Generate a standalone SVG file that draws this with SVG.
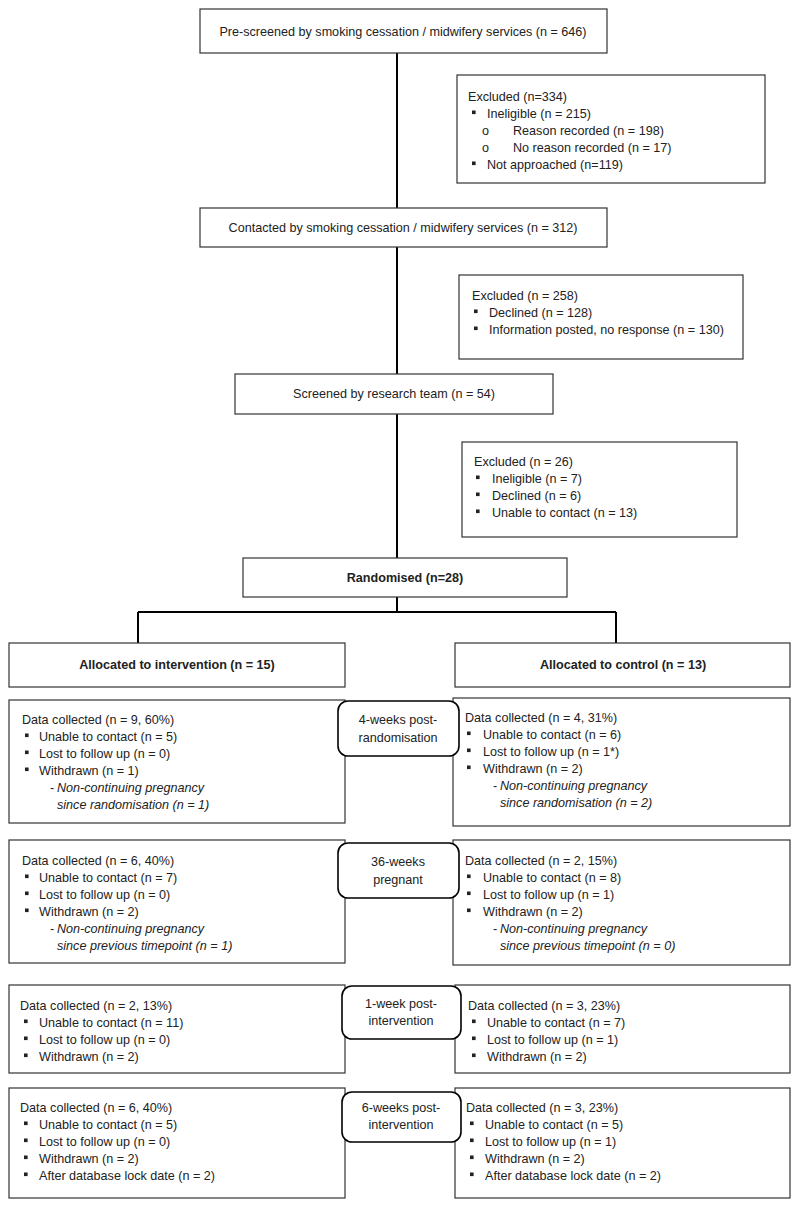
<svg xmlns="http://www.w3.org/2000/svg" width="800" height="1212" viewBox="0 0 800 1212">
<style>
.box{fill:#fff;stroke:#333;stroke-width:1.2}
.tp{fill:#fff;stroke:#000;stroke-width:1.6}
.con{stroke:#000;stroke-width:2;fill:none}
text{font-family:"Liberation Sans",Arial,sans-serif;font-size:12.6px;fill:#222}
.c{text-anchor:middle}
.b{font-weight:bold}
.i{font-style:italic}
.bul{fill:#222}
</style>
<defs>
<rect id="sq" x="0" y="-7.5" width="3.6" height="3.6" class="bul"/>
</defs>
<rect width="800" height="1212" fill="#fff"/>
<g id="connectors">
<line class="con" x1="397" y1="53" x2="397" y2="208"/>
<line class="con" x1="397" y1="247" x2="397" y2="374"/>
<line class="con" x1="397" y1="414" x2="397" y2="558"/>
<line class="con" x1="397" y1="597" x2="397" y2="612"/>
<line class="con" x1="138" y1="612" x2="616" y2="612"/>
<line class="con" x1="138" y1="612" x2="138" y2="643"/>
<line class="con" x1="616" y1="612" x2="616" y2="643"/>
</g>
<g id="prescreened">
<rect class="box" x="200" y="9" width="407" height="44"/>
<text class="c" x="403" y="36">Pre-screened by smoking cessation / midwifery services (n = 646)</text>
</g>
<g id="excluded1">
<rect class="box" x="457" y="75" width="308" height="108"/>
<text x="468" y="101">Excluded (n=334)</text>
<use href="#sq" x="472" y="118"/>
<text x="487" y="118">Ineligible (n = 215)</text>
<text x="482" y="135">o</text>
<text x="513" y="135">Reason recorded (n = 198)</text>
<text x="482" y="152">o</text>
<text x="513" y="152">No reason recorded (n = 17)</text>
<use href="#sq" x="472" y="169"/>
<text x="487" y="169">Not approached (n=119)</text>
</g>
<g id="contacted">
<rect class="box" x="200" y="208" width="407" height="39"/>
<text class="c" x="403" y="232">Contacted by smoking cessation / midwifery services (n = 312)</text>
</g>
<g id="excluded2">
<rect class="box" x="459" y="275" width="284" height="84"/>
<text x="472" y="300">Excluded (n = 258)</text>
<use href="#sq" x="474" y="317"/>
<text x="489" y="317">Declined (n = 128)</text>
<use href="#sq" x="474" y="334"/>
<text x="489" y="334">Information posted, no response (n = 130)</text>
</g>
<g id="screened">
<rect class="box" x="235" y="374" width="318" height="40"/>
<text class="c" x="394" y="398">Screened by research team (n = 54)</text>
</g>
<g id="excluded3">
<rect class="box" x="462" y="442" width="275" height="95"/>
<text x="474" y="466">Excluded (n = 26)</text>
<use href="#sq" x="476" y="483"/>
<text x="492" y="483">Ineligible (n = 7)</text>
<use href="#sq" x="476" y="500"/>
<text x="492" y="500">Declined (n = 6)</text>
<use href="#sq" x="476" y="517"/>
<text x="492" y="517">Unable to contact (n = 13)</text>
</g>
<g id="randomised">
<rect class="box" x="243" y="558" width="324" height="39"/>
<text class="c b" x="405" y="582">Randomised (n=28)</text>
</g>
<g id="alloc-intervention">
<rect class="box" x="9" y="643" width="336" height="44"/>
<text class="c b" x="177" y="669">Allocated to intervention (n = 15)</text>
</g>
<g id="alloc-control">
<rect class="box" x="455" y="643" width="335" height="44"/>
<text class="c b" x="623" y="669">Allocated to control (n = 13)</text>
</g>
<g id="int-4w">
<rect class="box" x="9" y="700" width="336" height="123"/>
<text x="22" y="724">Data collected (n = 9, 60%)</text>
<use href="#sq" x="25" y="741"/>
<text x="39" y="741">Unable to contact (n = 5)</text>
<use href="#sq" x="25" y="758"/>
<text x="39" y="758">Lost to follow up (n = 0)</text>
<use href="#sq" x="25" y="775"/>
<text x="39" y="775">Withdrawn (n = 1)</text>
<text x="50" y="792">-</text>
<text class="i" x="57" y="792">Non-continuing pregnancy</text>
<text class="i" x="57" y="809">since randomisation (n = 1)</text>
</g>
<g id="ctl-4w">
<rect class="box" x="453" y="698" width="337" height="128"/>
<text x="465" y="722">Data collected (n = 4, 31%)</text>
<use href="#sq" x="467" y="739"/>
<text x="483" y="739">Unable to contact (n = 6)</text>
<use href="#sq" x="467" y="756"/>
<text x="483" y="756">Lost to follow up (n = 1*)</text>
<use href="#sq" x="467" y="773"/>
<text x="483" y="773">Withdrawn (n = 2)</text>
<text x="493" y="790">-</text>
<text class="i" x="500" y="790">Non-continuing pregnancy</text>
<text class="i" x="500" y="807">since randomisation (n = 2)</text>
</g>
<g id="tp-4w">
<rect class="tp" x="338" y="701" width="121" height="55" rx="10"/>
<text class="c" x="398" y="724">4-weeks post-</text>
<text class="c" x="398" y="742">randomisation</text>
</g>
<g id="int-36w">
<rect class="box" x="9" y="840" width="336" height="123"/>
<text x="22" y="865">Data collected (n = 6, 40%)</text>
<use href="#sq" x="25" y="882"/>
<text x="39" y="882">Unable to contact (n = 7)</text>
<use href="#sq" x="25" y="899"/>
<text x="39" y="899">Lost to follow up (n = 0)</text>
<use href="#sq" x="25" y="916"/>
<text x="39" y="916">Withdrawn (n = 2)</text>
<text x="50" y="933">-</text>
<text class="i" x="57" y="933">Non-continuing pregnancy</text>
<text class="i" x="57" y="950">since previous timepoint (n = 1)</text>
</g>
<g id="ctl-36w">
<rect class="box" x="453" y="840" width="337" height="125"/>
<text x="465" y="865">Data collected (n = 2, 15%)</text>
<use href="#sq" x="467" y="882"/>
<text x="483" y="882">Unable to contact (n = 8)</text>
<use href="#sq" x="467" y="899"/>
<text x="483" y="899">Lost to follow up (n = 1)</text>
<use href="#sq" x="467" y="916"/>
<text x="483" y="916">Withdrawn (n = 2)</text>
<text x="493" y="933">-</text>
<text class="i" x="500" y="933">Non-continuing pregnancy</text>
<text class="i" x="500" y="950">since previous timepoint (n = 0)</text>
</g>
<g id="tp-36w">
<rect class="tp" x="338" y="843" width="121" height="55" rx="10"/>
<text class="c" x="398" y="866">36-weeks</text>
<text class="c" x="398" y="884">pregnant</text>
</g>
<g id="int-1w">
<rect class="box" x="9" y="985" width="336" height="88"/>
<text x="20" y="1010">Data collected (n = 2, 13%)</text>
<use href="#sq" x="24" y="1027"/>
<text x="39" y="1027">Unable to contact (n = 11)</text>
<use href="#sq" x="24" y="1044"/>
<text x="39" y="1044">Lost to follow up (n = 0)</text>
<use href="#sq" x="24" y="1061"/>
<text x="39" y="1061">Withdrawn (n = 2)</text>
</g>
<g id="ctl-1w">
<rect class="box" x="455" y="985" width="335" height="88"/>
<text x="468" y="1010">Data collected (n = 3, 23%)</text>
<use href="#sq" x="472" y="1027"/>
<text x="487" y="1027">Unable to contact (n = 7)</text>
<use href="#sq" x="472" y="1044"/>
<text x="487" y="1044">Lost to follow up (n = 1)</text>
<use href="#sq" x="472" y="1061"/>
<text x="487" y="1061">Withdrawn (n = 2)</text>
</g>
<g id="tp-1w">
<rect class="tp" x="342" y="986" width="119" height="53" rx="10"/>
<text class="c" x="401" y="1008">1-week post-</text>
<text class="c" x="401" y="1025">intervention</text>
</g>
<g id="int-6w">
<rect class="box" x="9" y="1088" width="336" height="110"/>
<text x="20" y="1112">Data collected (n = 6, 40%)</text>
<use href="#sq" x="24" y="1129"/>
<text x="39" y="1129">Unable to contact (n = 5)</text>
<use href="#sq" x="24" y="1146"/>
<text x="39" y="1146">Lost to follow up (n = 0)</text>
<use href="#sq" x="24" y="1163"/>
<text x="39" y="1163">Withdrawn (n = 2)</text>
<use href="#sq" x="24" y="1180"/>
<text x="39" y="1180">After database lock date (n = 2)</text>
</g>
<g id="ctl-6w">
<rect class="box" x="455" y="1088" width="335" height="110"/>
<text x="466" y="1112">Data collected (n = 3, 23%)</text>
<use href="#sq" x="470" y="1129"/>
<text x="485" y="1129">Unable to contact (n = 5)</text>
<use href="#sq" x="470" y="1146"/>
<text x="485" y="1146">Lost to follow up (n = 1)</text>
<use href="#sq" x="470" y="1163"/>
<text x="485" y="1163">Withdrawn (n = 2)</text>
<use href="#sq" x="470" y="1180"/>
<text x="485" y="1180">After database lock date (n = 2)</text>
</g>
<g id="tp-6w">
<rect class="tp" x="342" y="1092" width="119" height="50" rx="10"/>
<text class="c" x="401" y="1112">6-weeks post-</text>
<text class="c" x="401" y="1129">intervention</text>
</g>
</svg>
